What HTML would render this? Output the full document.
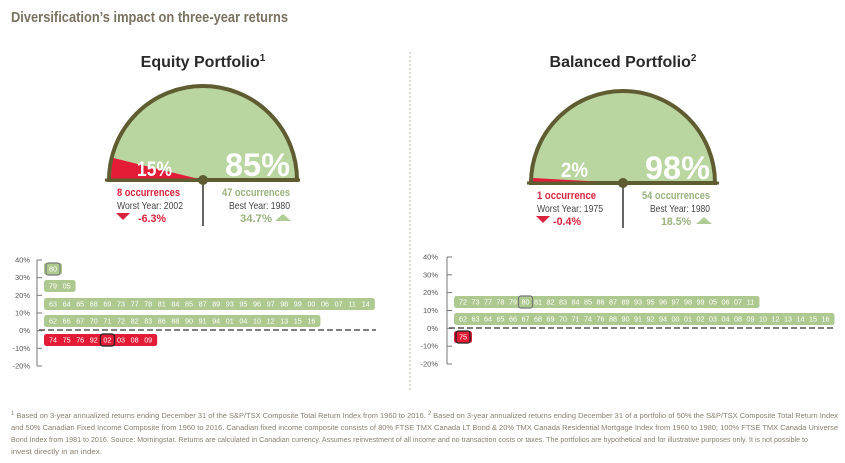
<!DOCTYPE html>
<html><head><meta charset="utf-8"><style>
html,body{margin:0;padding:0;background:#fff;}
svg{display:block;font-family:"Liberation Sans",sans-serif;}
</style></head><body>
<svg id="s" width="845" height="463" viewBox="0 0 845 463" xmlns="http://www.w3.org/2000/svg">
<text x="11" y="22" font-size="15" font-weight="bold" fill="#7a7260" textLength="277" lengthAdjust="spacingAndGlyphs">Diversification’s impact on three-year returns</text>
<line x1="410" y1="52" x2="410" y2="392" stroke="#c8c2b4" stroke-width="1.5" stroke-dasharray="1.5,2.5"/>

<!-- Equity gauge -->
<text x="203" y="67" font-size="16" font-weight="bold" fill="#2a2a2a" text-anchor="middle">Equity Portfolio<tspan font-size="10" dy="-6">1</tspan></text>
<path d="M109,180 A94,94 0 0 1 297,180 Z" fill="#b9d5a0" stroke="#5e5c30" stroke-width="4"/>
<path d="M203,180 L111,180 A92,92 0 0 1 113.5,158 Z" fill="#e31b37"/>
<line x1="105" y1="180" x2="300" y2="180" stroke="#5e5c30" stroke-width="3"/>
<line x1="203" y1="180" x2="203" y2="226" stroke="#333" stroke-width="1.5"/>
<circle cx="203" cy="180" r="5" fill="#5e5c30"/>
<text x="137" y="176" font-size="21" font-weight="bold" fill="#fff" textLength="35" lengthAdjust="spacingAndGlyphs">15%</text>
<text x="225" y="176" font-size="32" font-weight="bold" fill="#fff" textLength="65" lengthAdjust="spacingAndGlyphs">85%</text>
<text x="117" y="196" font-size="11" font-weight="bold" fill="#d9233c" textLength="63" lengthAdjust="spacingAndGlyphs">8 occurrences</text>
<text x="117" y="209" font-size="10.5" fill="#444" textLength="66" lengthAdjust="spacingAndGlyphs">Worst Year: 2002</text>
<polygon points="116,213 130,213 123,220" fill="#d9233c"/>
<text x="138" y="222" font-size="11" font-weight="bold" fill="#d9233c" textLength="28" lengthAdjust="spacingAndGlyphs">-6.3%</text>
<text x="222" y="196" font-size="11" font-weight="bold" fill="#9ab27e" textLength="68" lengthAdjust="spacingAndGlyphs">47 occurrences</text>
<text x="229" y="209" font-size="10.5" fill="#444" textLength="61" lengthAdjust="spacingAndGlyphs">Best Year: 1980</text>
<text x="240" y="222" font-size="11" font-weight="bold" fill="#9ab27e" textLength="32" lengthAdjust="spacingAndGlyphs">34.7%</text>
<polygon points="275,221 291,221 283,214" fill="#b0cc95"/>

<!-- Balanced gauge -->
<text x="623" y="67" font-size="16" font-weight="bold" fill="#2a2a2a" text-anchor="middle">Balanced Portfolio<tspan font-size="10" dy="-6">2</tspan></text>
<path d="M531,183 A92,92 0 0 1 715,183 Z" fill="#b9d5a0" stroke="#5e5c30" stroke-width="4"/>
<path d="M623,183 L533,183 A90,90 0 0 1 533.3,178 Z" fill="#e31b37"/>
<line x1="527" y1="183" x2="719" y2="183" stroke="#5e5c30" stroke-width="3"/>
<line x1="623" y1="183" x2="623" y2="228" stroke="#333" stroke-width="1.5"/>
<circle cx="623" cy="183" r="5" fill="#5e5c30"/>
<text x="561" y="177" font-size="21" font-weight="bold" fill="#fff" textLength="27" lengthAdjust="spacingAndGlyphs">2%</text>
<text x="645" y="179" font-size="32" font-weight="bold" fill="#fff" textLength="65" lengthAdjust="spacingAndGlyphs">98%</text>
<text x="537" y="199" font-size="11" font-weight="bold" fill="#d9233c" textLength="59" lengthAdjust="spacingAndGlyphs">1 occurrence</text>
<text x="537" y="212" font-size="10.5" fill="#444" textLength="66" lengthAdjust="spacingAndGlyphs">Worst Year: 1975</text>
<polygon points="536,216 550,216 543,223" fill="#d9233c"/>
<text x="553" y="225" font-size="11" font-weight="bold" fill="#d9233c" textLength="28" lengthAdjust="spacingAndGlyphs">-0.4%</text>
<text x="642" y="199" font-size="11" font-weight="bold" fill="#9ab27e" textLength="68" lengthAdjust="spacingAndGlyphs">54 occurrences</text>
<text x="650" y="212" font-size="10.5" fill="#444" textLength="60" lengthAdjust="spacingAndGlyphs">Best Year: 1980</text>
<text x="661" y="225" font-size="11" font-weight="bold" fill="#9ab27e" textLength="30" lengthAdjust="spacingAndGlyphs">18.5%</text>
<polygon points="696,224 712,224 704,217" fill="#b0cc95"/>

<g id="charts"></g>

<g font-size="7.6" fill="#8a8070">
<text x="11" y="418" textLength="827" lengthAdjust="spacingAndGlyphs"><tspan font-size="6" dy="-3">1</tspan><tspan dy="3"> Based on 3-year annualized returns ending December 31 of the S&amp;P/TSX Composite Total Return Index from 1960 to 2016. </tspan><tspan font-size="6" dy="-3">2</tspan><tspan dy="3"> Based on 3-year annualized returns ending December 31 of a portfolio of 50% the S&amp;P/TSX Composite Total Return Index</tspan></text>
<text x="11" y="430" textLength="827" lengthAdjust="spacingAndGlyphs">and 50% Canadian Fixed Income Composite from 1960 to 2016. Canadian fixed income composite consists of 80% FTSE TMX Canada LT Bond &amp; 20% TMX Canada Residential Mortgage Index from 1960 to 1980; 100% FTSE TMX Canada Universe</text>
<text x="11" y="442" textLength="797" lengthAdjust="spacingAndGlyphs">Bond Index from 1981 to 2016. Source: Morningstar. Returns are calculated in Canadian currency. Assumes reinvestment of all income and no transaction costs or taxes. The portfolios are hypothetical and for illustrative purposes only. It is not possible to</text>
<text x="11" y="454" textLength="91" lengthAdjust="spacingAndGlyphs">invest directly in an index.</text>
</g>
</svg>
<script>
var NS="http://www.w3.org/2000/svg",g=document.getElementById("charts");
function el(t,a,txt){var e=document.createElementNS(NS,t);for(var k in a)e.setAttribute(k,a[k]);if(txt!=null)e.textContent=txt;g.appendChild(e);return e;}
function chart(ax,top,bot,lblx,zeroY,zeroEnd,step,rows){
  el("line",{x1:ax,y1:top,x2:ax,y2:bot,stroke:"#777","stroke-width":1});
  var labs=["40%","30%","20%","10%","0%","-10%","-20%"];
  for(var i=0;i<7;i++){var y=top+(bot-top)*i/6;
    el("line",{x1:ax,y1:y,x2:ax+5,y2:y,stroke:"#777","stroke-width":1});
    el("text",{x:lblx,y:y+2.5,"font-size":7.5,fill:"#555","text-anchor":"end"},labs[i]);}
  el("line",{x1:ax+2,y1:zeroY,x2:zeroEnd,y2:zeroY,stroke:"#555","stroke-width":1.5,"stroke-dasharray":"6,3"});
  rows.forEach(function(r){
    var n=r.l.length,x0=ax+7,c0=x0+9;
    var w=(n-1)*step+18;
    el("rect",{x:x0,y:r.y-6,width:w,height:12,rx:2.5,fill:r.red?"#e31b37":"#adc98f"});
    r.l.forEach(function(s,i){var cx=c0+i*step;
      if(r.hl==i)el("rect",{x:cx-7,y:r.y-6,width:14,height:12,rx:2.5,fill:"none",stroke:r.red?"#222":"#777","stroke-width":1.2});
      el("text",{x:cx,y:r.y+2.5,"font-size":7.2,fill:"#fff","text-anchor":"middle"},s);});
  });
}
chart(37,260,366,30,330,376,13.6,[
 {y:269,l:["80"],hl:0},
 {y:286,l:["79","05"]},
 {y:304,l:"63 64 65 68 69 73 77 78 81 84 85 87 89 93 95 96 97 98 99 00 06 07 11 14".split(" ")},
 {y:321,l:"62 66 67 70 71 72 82 83 86 88 90 91 94 01 04 10 12 13 15 16".split(" ")},
 {y:340,l:"74 75 76 92 02 03 08 09".split(" "),red:1,hl:4}
]);
chart(447,257,364,438,328,835,12.5,[
 {y:302,l:"72 73 77 78 79 80 81 82 83 84 85 86 87 89 93 95 96 97 98 99 05 06 07 11".split(" "),hl:5},
 {y:319,l:"62 63 64 65 66 67 68 69 70 71 74 76 88 90 91 92 94 00 01 02 03 04 08 09 10 12 13 14 15 16".split(" ")},
 {y:337,l:["75"],red:1,hl:0}
]);
</script>
</body></html>
